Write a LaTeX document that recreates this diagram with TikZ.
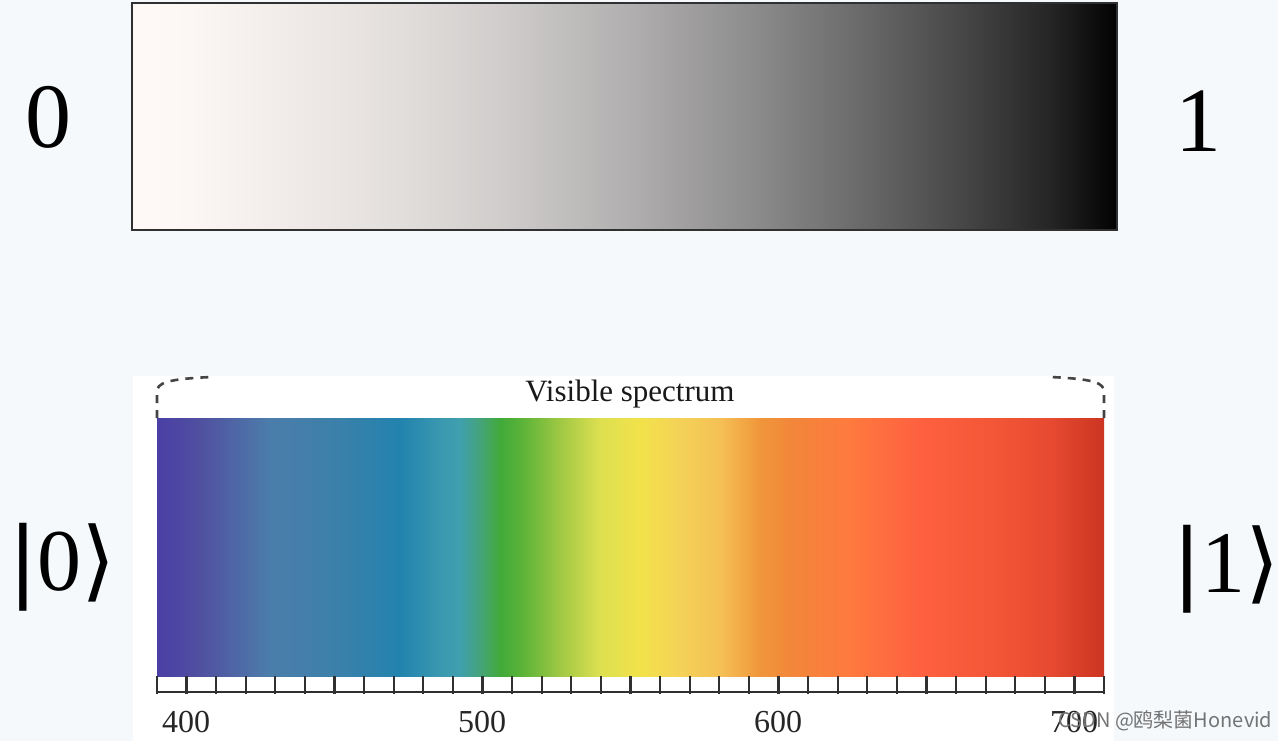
\documentclass[tikz,border=0pt]{standalone}
\usepackage{fontspec}
\newfontfamily\serifT{Liberation Serif}
\newfontfamily\dvs{DejaVu Sans}
\newfontfamily\cjk{Noto Sans CJK SC}
\usetikzlibrary{calc}
% spectrum colours
\definecolor{s01}{HTML}{4A3FA5}
\definecolor{s02}{HTML}{5050A0}
\definecolor{s03}{HTML}{4E70A8}
\definecolor{s04}{HTML}{4B7DAA}
\definecolor{s05}{HTML}{3D80AA}
\definecolor{s06}{HTML}{2283AE}
\definecolor{s07}{HTML}{3A98B0}
\definecolor{s08}{HTML}{3FA0AE}
\definecolor{s09}{HTML}{45A37A}
\definecolor{s10}{HTML}{42AA3A}
\definecolor{s11}{HTML}{58B238}
\definecolor{s12}{HTML}{A0C844}
\definecolor{s13}{HTML}{DDE050}
\definecolor{s14}{HTML}{F2E24A}
\definecolor{s15}{HTML}{F4D258}
\definecolor{s16}{HTML}{F5C055}
\definecolor{s17}{HTML}{F0963A}
\definecolor{s18}{HTML}{F2873A}
\definecolor{s19}{HTML}{FE7A3E}
\definecolor{s20}{HTML}{FE6040}
\definecolor{s21}{HTML}{F25535}
\definecolor{s22}{HTML}{E64A30}
\definecolor{s23}{HTML}{CC3522}
\pgfdeclarehorizontalshading{spec}{100bp}{%
color(0bp)=(s01); color(25bp)=(s01); color(27.27bp)=(s02); color(29.91bp)=(s03);
color(30.97bp)=(s04); color(34.13bp)=(s05); color(37.83bp)=(s06); color(39.94bp)=(s07);
color(41.00bp)=(s08); color(42.05bp)=(s09); color(43.11bp)=(s10); color(44.17bp)=(s11);
color(46.28bp)=(s12); color(48.39bp)=(s13); color(50.50bp)=(s14); color(52.61bp)=(s15);
color(54.73bp)=(s16); color(56.84bp)=(s17); color(58.42bp)=(s18); color(61.59bp)=(s19);
color(65.28bp)=(s20); color(69.51bp)=(s21); color(72.15bp)=(s22); color(75bp)=(s23);
color(100bp)=(s23)}
% grey bar colours
\definecolor{g01}{HTML}{FFFAF7}
\definecolor{g02}{HTML}{FCF7F5}
\definecolor{g03}{HTML}{EFEAE8}
\definecolor{g04}{HTML}{E2DEDC}
\definecolor{g05}{HTML}{D0CDCC}
\definecolor{g06}{HTML}{B2B0B0}
\definecolor{g07}{HTML}{8E8D8D}
\definecolor{g08}{HTML}{6E6D6D}
\definecolor{g09}{HTML}{4C4B4B}
\definecolor{g10}{HTML}{262525}
\definecolor{g11}{HTML}{020202}
\pgfdeclarehorizontalshading{greyramp}{100bp}{%
color(0bp)=(g01); color(25bp)=(g01); color(27.94bp)=(g02); color(33.53bp)=(g03);
color(38.60bp)=(g04); color(43.68bp)=(g05); color(50.02bp)=(g06); color(56.37bp)=(g07);
color(61.45bp)=(g08); color(66.52bp)=(g09); color(71.60bp)=(g10); color(75bp)=(g11);
color(100bp)=(g11)}
\definecolor{bg}{HTML}{F5F9FC}
\definecolor{rulecol}{HTML}{303030}
\definecolor{dashcol}{HTML}{444444}
\tikzset{
  bigdigit/.style={inner sep=0pt, font=\serifT\fontsize{92}{92}\selectfont},
  ketlabel/.style={inner sep=0pt, font=\serifT\fontsize{88}{88}\selectfont},
  ticklabel/.style={inner sep=0pt, font=\serifT\fontsize{32}{32}\selectfont, text=black!85},
  tickline/.style={draw=rulecol, line width=2.2pt},
  bracedash/.style={draw=dashcol, line width=2.6pt, dash pattern=on 8pt off 7pt},
}
\begin{document}
\begin{tikzpicture}[x=1pt,y=-1pt]
\useasboundingbox (0,0) rectangle (1278,741);
\fill[bg] (0,0) rectangle (1278,741);
% top grey bar
\shade[shading=greyramp] (132,3) rectangle (1117,230);
\draw[rulecol, line width=2pt] (132,3) rectangle (1117,230);
\node[bigdigit] (zero) at (48,117) {0};
\node[bigdigit] (one) at (1198,121) {1};
% spectrum panel
\fill[white] (133,376) rectangle (1114,741);
\shade[shading=spec] (157,418) rectangle (1104,676);
% ruler
\foreach \i in {0,...,32} {
  \draw[tickline] ({157+\i*29.594},676) -- ({157+\i*29.594},693.5);
}
\draw[tickline] (157,692) -- (1104,692);
\node[ticklabel] (l400) at (186,722) {400};
\node[ticklabel] (l500) at (482,722) {500};
\node[ticklabel] (l600) at (778,722) {600};
\node[ticklabel] (l700) at (1074,722) {700};
% brace
\draw[bracedash] (157,418) -- (157,392) .. controls (157,383) and (166,379) .. (212,377);
\draw[bracedash] (1104,418) -- (1104,392) .. controls (1104,383) and (1095,379) .. (1050,377);
\node[inner sep=0pt, anchor=base, font=\serifT\fontsize{31}{31}\selectfont, text=black!90] (title) at (630,401) {Visible spectrum};
% kets
\node[ketlabel] (ket0) at (62,567) {{\dvs|}0{\dvs⟩}};
\node[ketlabel] (ket1) at (1226,569) {{\dvs|}1{\dvs⟩}};
% watermark
\node[inner sep=0pt, anchor=west, font=\cjk\fontsize{20}{20}\selectfont, text=black!55] (wm) at (1058,721) {CSDN @鸥梨菌Honevid};
\end{tikzpicture}
\end{document}
